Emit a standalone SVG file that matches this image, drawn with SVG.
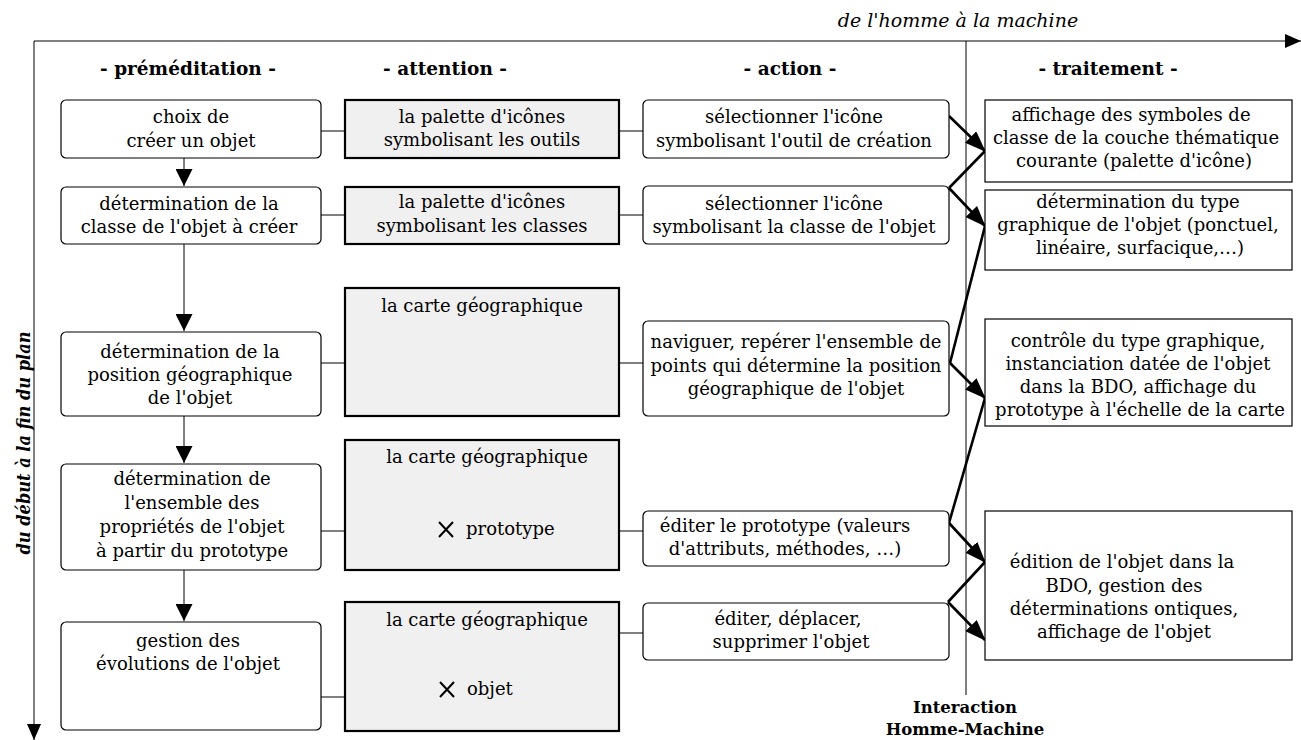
<svg xmlns="http://www.w3.org/2000/svg" width="1301" height="740" viewBox="0 0 1301 740">
<style>
text{font-family:"DejaVu Serif","Liberation Serif",serif;font-size:18px;text-anchor:middle;fill:#000}
.h{font-weight:bold;font-size:18.5px}
.it{font-style:italic;font-size:19px}
.ib{font-style:italic;font-weight:bold;font-size:18px}
.ihm{font-weight:bold;font-size:16.5px}
.st{text-anchor:start}
.box{fill:#fff;stroke:#000;stroke-width:1.2}
.att{fill:#f0f0f0;stroke:#000;stroke-width:2.2}
.thin{stroke:#000;stroke-width:1;fill:none}
.thick{stroke:#000;stroke-width:2.6;fill:none}
.xm{stroke:#000;stroke-width:2;fill:none}
</style>
<defs>
<marker id="ah" markerUnits="userSpaceOnUse" markerWidth="21" markerHeight="16" refX="20" refY="8" orient="auto"><path d="M0,0 L21,8 L0,16 z" fill="#000"/></marker>
<marker id="av" markerUnits="userSpaceOnUse" markerWidth="17" markerHeight="17" refX="17" refY="8.5" orient="auto"><path d="M0,0 L17,8.5 L0,17 z" fill="#000"/></marker>
<marker id="ax" markerUnits="userSpaceOnUse" markerWidth="16" markerHeight="14" refX="16" refY="7" orient="auto"><path d="M0,0 L16,7 L0,14 z" fill="#000"/></marker>
</defs>
<rect width="1301" height="740" fill="#fff"/>

<g id="axes">
<line class="thin" x1="34" y1="41" x2="1301" y2="41" marker-end="url(#ax)"/>
<line class="thin" x1="34" y1="41" x2="34" y2="740" marker-end="url(#ax)"/>
<line class="thin" x1="966" y1="41" x2="966" y2="695"/>
<text class="it" x="958" y="27">de l'homme à la machine</text>
<text class="ib" transform="rotate(-90 30 443)" x="30" y="443" textLength="223" lengthAdjust="spacingAndGlyphs">du début à la fin du plan</text>
<text class="ihm" x="965" y="713">Interaction</text>
<text class="ihm" x="965" y="735">Homme-Machine</text>
</g>

<g id="headers">
<text class="h" x="188" y="75">- préméditation -</text>
<text class="h" x="445" y="75">- attention -</text>
<text class="h" x="790" y="75">- action -</text>
<text class="h" x="1108" y="75">- traitement -</text>
</g>

<g id="connectors">
<line class="thin" x1="184" y1="158" x2="184" y2="186" marker-end="url(#av)"/>
<line class="thin" x1="184" y1="244" x2="184" y2="331" marker-end="url(#av)"/>
<line class="thin" x1="184" y1="416" x2="184" y2="463" marker-end="url(#av)"/>
<line class="thin" x1="184" y1="570" x2="184" y2="621" marker-end="url(#av)"/>
<line class="thin" x1="321" y1="131" x2="345" y2="131"/>
<line class="thin" x1="619" y1="131" x2="643" y2="131"/>
<line class="thin" x1="321" y1="215" x2="345" y2="215"/>
<line class="thin" x1="619" y1="215" x2="643" y2="215"/>
<line class="thin" x1="321" y1="363" x2="345" y2="363"/>
<line class="thin" x1="619" y1="363" x2="643" y2="363"/>
<line class="thin" x1="321" y1="531" x2="345" y2="531"/>
<line class="thin" x1="619" y1="531" x2="643" y2="531"/>
<line class="thin" x1="321" y1="697" x2="345" y2="697"/>
<line class="thin" x1="619" y1="633" x2="643" y2="633"/>
<line class="thick" x1="949" y1="116" x2="985" y2="151" marker-end="url(#ah)"/>
<line class="thick" x1="949" y1="188" x2="985" y2="151"/>
<line class="thick" x1="949" y1="188" x2="985" y2="226" marker-end="url(#ah)"/>
<line class="thick" x1="950" y1="363" x2="985" y2="226"/>
<line class="thick" x1="950" y1="363" x2="985" y2="398" marker-end="url(#ah)"/>
<line class="thick" x1="949" y1="523" x2="985" y2="398"/>
<line class="thick" x1="949" y1="523" x2="985" y2="562" marker-end="url(#ah)"/>
<line class="thick" x1="948" y1="602" x2="985" y2="562"/>
<line class="thick" x1="948" y1="602" x2="985" y2="640" marker-end="url(#ah)"/>
</g>

<g id="p1"><rect class="box" x="61" y="100" width="260" height="58" rx="5"/>
<text x="191" y="123">choix de</text>
<text x="191" y="147">créer un objet</text></g>
<g id="p2"><rect class="box" x="61" y="187" width="260" height="57" rx="5"/>
<text x="189" y="210">détermination de la</text>
<text x="189" y="233">classe de l'objet à créer</text></g>
<g id="p3"><rect class="box" x="61" y="332" width="260" height="84" rx="5"/>
<text x="190" y="358">détermination de la</text>
<text x="190" y="381">position géographique</text>
<text x="190" y="404">de l'objet</text></g>
<g id="p4"><rect class="box" x="61" y="464" width="260" height="106" rx="5"/>
<text x="192" y="485">détermination de</text>
<text x="192" y="509">l'ensemble des</text>
<text x="192" y="533">propriétés de l'objet</text>
<text x="192" y="557">à partir du prototype</text></g>
<g id="p5"><rect class="box" x="61" y="622" width="260" height="108" rx="5"/>
<text x="188" y="647">gestion des</text>
<text x="188" y="670">évolutions de l'objet</text></g>

<g id="a1"><rect class="att" x="345" y="100" width="274" height="58"/>
<text x="482" y="123">la palette d'icônes</text>
<text x="482" y="146">symbolisant les outils</text></g>
<g id="a2"><rect class="att" x="345" y="187" width="274" height="57"/>
<text x="482" y="208">la palette d'icônes</text>
<text x="482" y="232">symbolisant les classes</text></g>
<g id="a3"><rect class="att" x="345" y="288" width="274" height="128"/>
<text x="482" y="312">la carte géographique</text></g>
<g id="a4"><rect class="att" x="345" y="440" width="274" height="130"/>
<text x="487" y="463">la carte géographique</text>
<path class="xm" d="M439,522 L453,537 M453,522 L439,537"/>
<text class="st" x="466" y="535">prototype</text></g>
<g id="a5"><rect class="att" x="345" y="602" width="274" height="129"/>
<text x="487" y="626">la carte géographique</text>
<path class="xm" d="M440,682 L454,697 M454,682 L440,697"/>
<text class="st" x="467" y="695">objet</text></g>

<g id="c1"><rect class="box" x="643" y="100" width="306" height="58" rx="5"/>
<text x="794" y="123">sélectionner l'icône</text>
<text x="794" y="147">symbolisant l'outil de création</text></g>
<g id="c2"><rect class="box" x="643" y="186" width="306" height="58" rx="5"/>
<text x="794" y="210">sélectionner l'icône</text>
<text x="794" y="233">symbolisant la classe de l'objet</text></g>
<g id="c3"><rect class="box" x="643" y="321" width="306" height="95" rx="5"/>
<text x="796" y="348">naviguer, repérer l'ensemble de</text>
<text x="796" y="372">points qui détermine la position</text>
<text x="796" y="395">géographique de l'objet</text></g>
<g id="c4"><rect class="box" x="643" y="511" width="306" height="55" rx="5"/>
<text x="785" y="532">éditer le prototype (valeurs</text>
<text x="785" y="555">d'attributs, méthodes, …)</text></g>
<g id="c5"><rect class="box" x="643" y="603" width="306" height="57" rx="5"/>
<text x="788" y="625">éditer, déplacer,</text>
<text x="791" y="648">supprimer l'objet</text></g>

<g id="t1"><rect class="box" x="985" y="100" width="307" height="82"/>
<text x="1131" y="121">affichage des symboles de</text>
<text x="1136" y="144">classe de la couche thématique</text>
<text x="1134" y="167">courante (palette d'icône)</text></g>
<g id="t2"><rect class="box" x="985" y="190" width="307" height="80"/>
<text x="1138" y="208">détermination du type</text>
<text x="1138" y="231">graphique de l'objet (ponctuel,</text>
<text x="1140" y="254">linéaire, surfacique,…)</text></g>
<g id="t3"><rect class="box" x="985" y="319" width="307" height="107"/>
<text x="1138" y="347">contrôle du type graphique,</text>
<text x="1138" y="370">instanciation datée de l'objet</text>
<text x="1138" y="393">dans la BDO, affichage du</text>
<text x="1140" y="416">prototype à l'échelle de la carte</text></g>
<g id="t4"><rect class="box" x="985" y="511" width="307" height="149"/>
<text x="1122" y="568">édition de l'objet dans la</text>
<text x="1124" y="592">BDO, gestion des</text>
<text x="1124" y="615">déterminations ontiques,</text>
<text x="1124" y="638">affichage de l'objet</text></g>
</svg>
